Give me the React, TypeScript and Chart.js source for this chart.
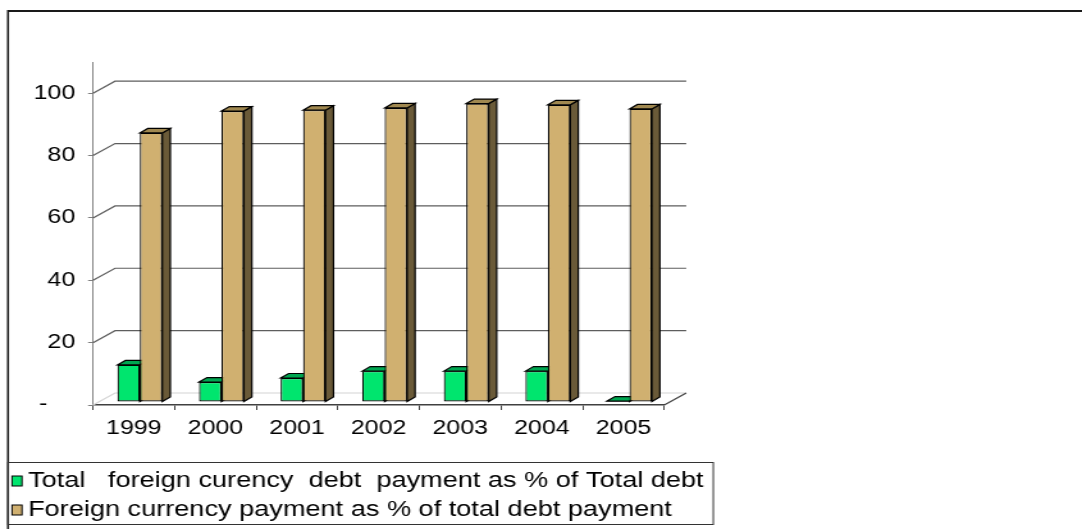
import { useEffect, useRef } from "react";
import { Chart, registerables } from "chart.js";

Chart.register(...registerables);

// ---- data ----
const categories = ["1999", "2000", "2001", "2002", "2003", "2004", "2005"];
const foreignShareOfTotalDebt = [11.9, 6.4, 7.7, 9.9, 9.9, 9.9, 0.3];
const foreignShareOfDebtPayment = [86.3, 93.3, 93.6, 94.3, 95.7, 95.3, 94.0];
const seriesLabels = [
  "Total   foreign curency  debt  payment as % of Total debt",
  "Foreign currency payment as % of total debt payment",
];
const yTickValues = [0, 20, 40, 60, 80, 100];
const yTickLabels = ["-    ", "20", "40", "60", "80", "100"];

// ---- geometry (the picture is horizontally stretched) ----
const SCREEN_W = 1082;
const H = 529;
const S = 1.28;
const W = Math.round(SCREEN_W / S);
const sx = (px: number) => px / S;

const FONT = '"Liberation Sans", Arial, sans-serif';
const WALL_DX = sx(22);
const WALL_DY = -12;
const BAR_SHIFT_X = sx(6);
const BAR_SHIFT_Y = -3;
const BAR_DX = sx(8);
const BAR_DY = -4.5;

const faceColors = [
  { top: "#00A651", side: "#007A3D" },
  { top: "#A08850", side: "#6A5A38" },
];

const threeD = {
  id: "threeD",
  beforeDatasetsDraw(chart: any) {
    const { ctx, chartArea, scales } = chart;
    const { left, right, bottom } = chartArea;
    const y = scales.y;
    ctx.save();
    // walls
    yTickValues.forEach((v) => {
      const yy = y.getPixelForValue(v);
      ctx.strokeStyle = v === 0 ? "#d4d4d4" : "#5e5e5e";
      ctx.lineWidth = 1.2;
      ctx.beginPath();
      ctx.moveTo(left, yy);
      ctx.lineTo(left + WALL_DX, yy + WALL_DY);
      ctx.lineTo(right + WALL_DX, yy + WALL_DY);
      ctx.stroke();
    });
    ctx.strokeStyle = "#404040";
    ctx.lineWidth = 1.2;
    ctx.beginPath();
    ctx.moveTo(right, bottom);
    ctx.lineTo(right + WALL_DX, bottom + WALL_DY);
    ctx.stroke();

    // bar depth faces
    ctx.strokeStyle = "#000";
    ctx.lineWidth = 1.2;
    ctx.lineJoin = "miter";
    chart.data.datasets.forEach((ds: any, di: number) => {
      const meta = chart.getDatasetMeta(di);
      meta.data.forEach((el: any) => {
        const p = el.getProps(["x", "y", "base", "width"], true);
        const xl = p.x - p.width / 2 + BAR_SHIFT_X;
        const xr = p.x + p.width / 2 + BAR_SHIFT_X;
        const t = Math.min(p.y, p.base) + BAR_SHIFT_Y;
        const b = Math.max(p.y, p.base) + BAR_SHIFT_Y;
        // side
        ctx.fillStyle = faceColors[di].side;
        ctx.beginPath();
        ctx.moveTo(xr, t);
        ctx.lineTo(xr + BAR_DX, t + BAR_DY);
        ctx.lineTo(xr + BAR_DX, b + BAR_DY);
        ctx.lineTo(xr, b);
        ctx.closePath();
        ctx.fill();
        ctx.stroke();
        // top
        ctx.fillStyle = faceColors[di].top;
        ctx.beginPath();
        ctx.moveTo(xl, t);
        ctx.lineTo(xl + BAR_DX, t + BAR_DY);
        ctx.lineTo(xr + BAR_DX, t + BAR_DY);
        ctx.lineTo(xr, t);
        ctx.closePath();
        ctx.fill();
        ctx.stroke();
      });
    });
    ctx.restore();
    ctx.save();
    ctx.translate(BAR_SHIFT_X, BAR_SHIFT_Y);
  },
  afterDatasetsDraw(chart: any) {
    chart.ctx.restore();
  },
  afterDraw(chart: any) {
    const { ctx } = chart;
    ctx.save();
    // outer frame
    ctx.strokeStyle = "#1a1a1a";
    ctx.lineWidth = 2;
    ctx.beginPath();
    ctx.moveTo(sx(8), 11);
    ctx.lineTo(W + 5, 11);
    ctx.stroke();
    ctx.lineWidth = sx(2);
    ctx.beginPath();
    ctx.moveTo(sx(8), 10);
    ctx.lineTo(sx(8), H + 5);
    ctx.stroke();

    // legend box
    ctx.strokeStyle = "#333";
    ctx.lineWidth = 1;
    ctx.strokeRect(sx(8), 462.5, sx(713) - sx(8), 62);

    const rows = [481, 510];
    chart.data.datasets.forEach((ds: any, i: number) => {
      const cy = rows[i];
      ctx.fillStyle = ds.backgroundColor;
      ctx.fillRect(sx(12), cy - 5, sx(10), 10);
      ctx.strokeStyle = "#000";
      ctx.lineWidth = 1;
      ctx.strokeRect(sx(12), cy - 5, sx(10), 10);
      ctx.fillStyle = "#000";
      ctx.font = `21.2px ${FONT}`;
      ctx.textBaseline = "middle";
      ctx.textAlign = "left";
      ctx.fillText(ds.label, sx(28), cy);
    });
    ctx.restore();
  },
};

export default function App() {
  const canvasRef = useRef<HTMLCanvasElement | null>(null);

  useEffect(() => {
    const canvas = canvasRef.current;
    if (!canvas) return;
    const chart = new Chart(canvas, {
      type: "bar",
      data: {
        labels: categories,
        datasets: [
          {
            label: seriesLabels[0],
            data: foreignShareOfTotalDebt,
            backgroundColor: "#00E56E",
            borderColor: "#000",
            borderWidth: 1.2,
            borderSkipped: false,
            categoryPercentage: 0.55,
            barPercentage: 1,
          },
          {
            label: seriesLabels[1],
            data: foreignShareOfDebtPayment,
            backgroundColor: "#D0B070",
            borderColor: "#000",
            borderWidth: 1.2,
            borderSkipped: false,
            categoryPercentage: 0.55,
            barPercentage: 1,
          },
        ],
      },
      options: {
        responsive: false,
        animation: false,
        devicePixelRatio: 1,
        layout: {
          padding: { top: 62, bottom: H - 405 - 40, left: 0, right: W - sx(664) },
        },
        plugins: {
          legend: { display: false },
          tooltip: { enabled: false },
          title: { display: false },
        },
        scales: {
          x: {
            type: "category",
            offset: true,
            grid: {
              display: true,
              drawOnChartArea: false,
              offset: true,
              drawTicks: true,
              tickLength: 5,
              color: "#404040",
            },
            border: { display: true, color: "#404040", width: 1.5 },
            ticks: {
              color: "#000",
              font: { family: FONT, size: 19.5 },
              padding: 7,
              maxRotation: 0,
              autoSkip: false,
            },
            afterFit: (scale: any) => {
              scale.height = 40;
            },
          },
          y: {
            type: "linear",
            min: 0,
            max: 110,
            grid: {
              display: true,
              drawOnChartArea: false,
              drawTicks: true,
              tickLength: sx(5),
              color: "#808080",
            },
            border: { display: true, color: "#808080", width: 1 },
            afterBuildTicks: (scale: any) => {
              scale.ticks = yTickValues.map((v) => ({ value: v }));
            },
            ticks: {
              color: "#000",
              font: { family: FONT, size: 19.5 },
              padding: 10,
              callback: (value: any) => {
                const i = yTickValues.indexOf(Number(value));
                return i >= 0 ? yTickLabels[i] : "";
              },
            },
            afterFit: (scale: any) => {
              scale.width = sx(93);
            },
          },
        },
      },
      plugins: [threeD],
    } as any);
    return () => chart.destroy();
  }, []);

  return (
    <div
      style={{
        position: "fixed",
        left: 0,
        top: 0,
        width: SCREEN_W,
        height: H,
        background: "#fff",
        overflow: "hidden",
      }}
    >
      <canvas
        ref={canvasRef}
        width={W}
        height={H}
        style={{ width: `${SCREEN_W}px`, height: `${H}px`, display: "block" }}
      />
    </div>
  );
}
